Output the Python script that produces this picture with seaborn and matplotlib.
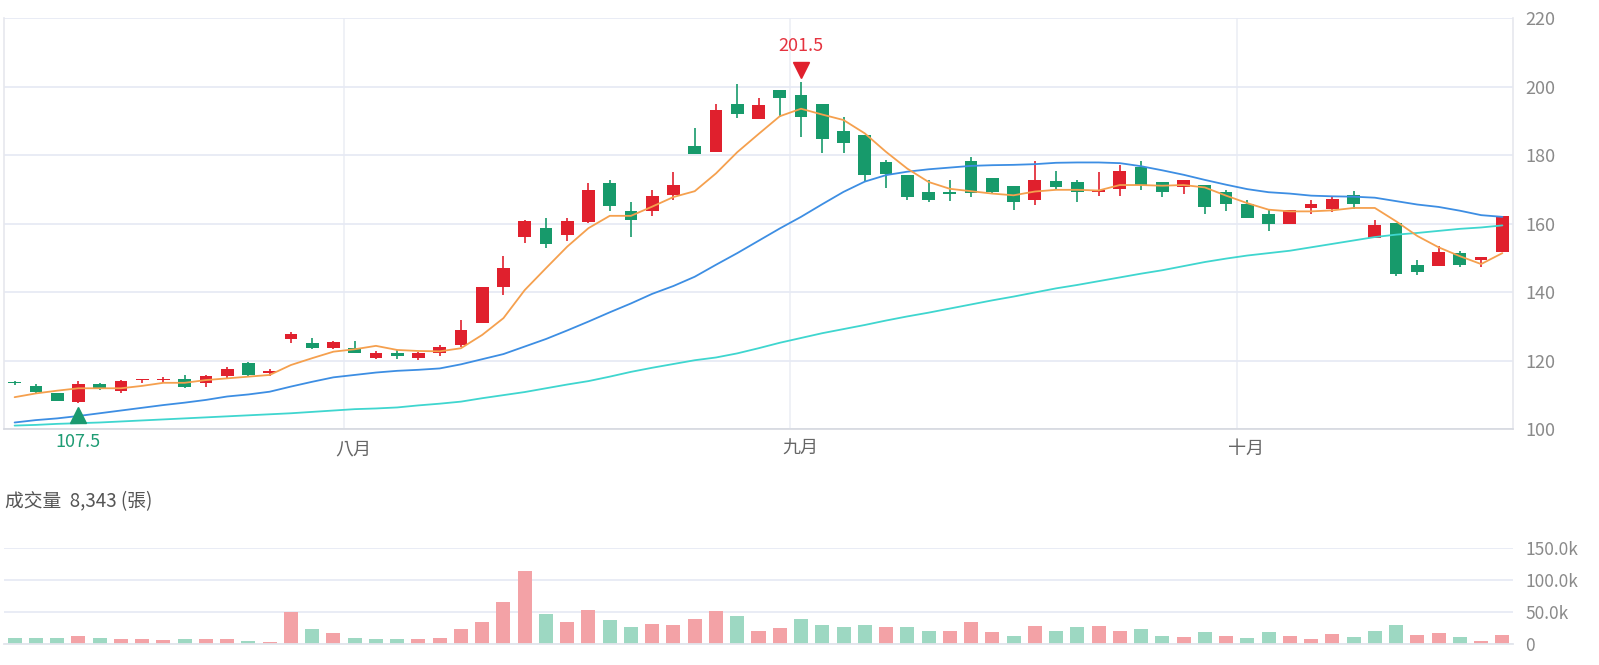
import numpy as np
import pandas as pd
import matplotlib
matplotlib.use("Agg")
import matplotlib.pyplot as plt
import seaborn as sns
from matplotlib.transforms import offset_copy, blended_transform_factory

# ---------------- data ----------------
open_ = [113.5, 112.6, 110.4, 108.0, 113.1, 111.2, 114.2, 114.2, 114.5, 113.4,
         115.5, 119.2, 116.5, 126.2, 125.0, 123.8, 123.6, 120.7, 122.2, 120.7,
         122.1, 124.6, 131.1, 141.6, 156.0, 158.7, 156.7, 160.6, 171.8, 163.7,
         163.8, 168.4, 182.6, 181.1, 195.0, 190.6, 199.2, 197.5, 195.1, 187.0,
         186.0, 177.9, 174.3, 169.2, 169.4, 178.2, 173.3, 171.1, 166.9, 172.6,
         172.3, 169.2, 170.0, 176.7, 172.3, 170.6, 171.3, 169.4, 165.8, 162.7,
         160.0, 164.7, 164.4, 168.4, 155.9, 160.3, 148.0, 147.5, 151.4, 149.4,
         151.8]
high = [113.9, 113.1, 110.6, 114.0, 113.4, 114.3, 114.6, 115.3, 115.8, 115.8,
        118.0, 119.6, 117.4, 128.4, 126.7, 125.8, 125.8, 122.9, 123.1, 122.6,
        124.6, 131.9, 141.5, 150.6, 161.0, 161.6, 161.6, 172.0, 172.8, 166.4,
        169.8, 175.0, 187.9, 194.9, 200.8, 196.8, 199.2, 201.5, 195.1, 191.3,
        186.0, 178.7, 174.3, 172.8, 172.8, 179.5, 173.3, 171.1, 178.2, 175.3,
        172.8, 175.1, 177.2, 178.2, 172.3, 172.8, 171.3, 169.9, 166.9, 163.9,
        164.1, 166.9, 167.9, 169.5, 161.0, 160.3, 149.4, 153.6, 151.9, 150.2,
        162.2]
low = [113.0, 110.4, 108.1, 107.5, 111.4, 110.4, 113.4, 113.4, 111.9, 112.4,
       114.7, 115.3, 115.5, 125.0, 123.4, 123.4, 122.1, 120.4, 120.4, 120.3,
       121.3, 124.1, 131.0, 139.2, 154.3, 152.8, 154.8, 160.3, 163.8, 156.2,
       162.2, 167.0, 180.3, 181.1, 190.9, 190.6, 191.1, 185.4, 180.8, 180.8,
       172.4, 170.3, 166.9, 166.2, 166.6, 167.9, 169.0, 163.9, 165.6, 169.9,
       166.4, 168.2, 168.2, 169.9, 167.7, 168.7, 162.8, 163.6, 161.8, 158.0,
       160.0, 162.8, 163.4, 164.2, 155.9, 144.6, 145.0, 147.5, 147.2, 147.2,
       151.8]
close = [113.3, 110.7, 108.3, 113.1, 111.6, 114.0, 114.5, 114.7, 112.2, 115.5,
         117.5, 115.7, 117.0, 127.7, 123.8, 125.5, 122.3, 122.1, 121.4, 122.1,
         124.1, 128.9, 141.4, 147.0, 160.9, 154.1, 160.9, 169.9, 165.2, 161.1,
         168.2, 171.2, 180.5, 193.1, 192.0, 194.6, 196.8, 191.3, 184.7, 183.7,
         174.2, 174.4, 167.9, 166.9, 168.7, 169.0, 169.3, 166.2, 172.8, 170.8,
         169.2, 169.9, 175.3, 171.3, 169.2, 172.8, 164.9, 165.9, 161.8, 159.8,
         164.1, 165.9, 167.2, 165.9, 159.7, 145.3, 145.9, 151.6, 147.9, 150.2,
         162.2]
ma5 = [109.3, 110.4, 111.2, 111.9, 111.9, 111.9, 112.6, 113.5, 113.5, 114.3,
       114.8, 115.3, 115.8, 118.7, 120.7, 122.6, 123.3, 124.3, 123.1, 122.8,
       122.7, 123.6, 127.5, 132.4, 140.6, 147.0, 153.3, 158.7, 162.3, 162.3,
       165.0, 167.8, 169.5, 174.7, 180.9, 186.2, 191.4, 193.6, 191.9, 190.3,
       186.4, 181.0, 176.1, 172.2, 170.2, 169.5, 168.8, 168.3, 169.4, 169.9,
       169.9, 169.7, 171.3, 171.3, 171.1, 171.3, 170.6, 168.2, 166.0, 164.1,
       163.6, 163.6, 163.9, 164.6, 164.6, 160.7, 156.4, 153.1, 150.5, 148.2,
       151.4]
ma20 = [101.9, 102.6, 103.1, 103.8, 104.6, 105.4, 106.2, 107.0, 107.7, 108.5,
        109.5, 110.1, 110.9, 112.4, 113.8, 115.1, 115.8, 116.5, 117.0, 117.3,
        117.7, 118.9, 120.4, 121.9, 124.1, 126.3, 128.8, 131.4, 134.1, 136.7,
        139.5, 141.8, 144.5, 148.0, 151.4, 155.0, 158.6, 162.0, 165.7, 169.3,
        172.3, 174.2, 175.2, 175.9, 176.4, 176.9, 177.1, 177.2, 177.4, 177.8,
        177.9, 177.9, 177.7, 176.8, 175.6, 174.3, 172.8, 171.4, 170.1, 169.2,
        168.8, 168.2, 168.0, 167.9, 167.6, 166.6, 165.6, 164.9, 163.8, 162.5,
        162.0]
ma60 = [101.0, 101.2, 101.5, 101.7, 101.9, 102.2, 102.5, 102.8, 103.1, 103.4,
        103.7, 104.0, 104.3, 104.6, 105.0, 105.4, 105.8, 106.0, 106.3, 106.9,
        107.4, 108.0, 109.0, 109.9, 110.8, 111.9, 113.0, 114.0, 115.3, 116.7,
        117.9, 119.0, 120.1, 120.9, 122.1, 123.6, 125.2, 126.6, 128.0, 129.2,
        130.4, 131.7, 132.9, 134.0, 135.2, 136.4, 137.6, 138.7, 139.9, 141.1,
        142.1, 143.2, 144.3, 145.4, 146.4, 147.6, 148.8, 149.8, 150.7, 151.4,
        152.1, 153.1, 154.1, 155.1, 156.1, 156.8, 157.3, 157.9, 158.5, 158.9,
        159.5]
volume = [10100, 9600, 9100, 13100, 10100, 8100, 7100, 5600, 7100, 8100,
          7100, 5100, 3000, 50000, 23700, 16700, 9600, 7600, 7100, 7600,
          9100, 23200, 33800, 65700, 113600, 47500, 33800, 52500, 36900, 26300,
          30800, 29800, 39400, 51000, 43400, 20700, 25300, 39400, 29800, 27300,
          29300, 26300, 26300, 20700, 20700, 34800, 18200, 12600, 28800, 20700,
          26800, 27800, 19700, 23200, 12100, 11100, 18200, 12100, 10100, 18200,
          12100, 7600, 15700, 11600, 19700, 29800, 14100, 17200, 11600, 5100,
          14100]
vol_up = [0, 0, 0, 1, 0, 1, 1, 1, 0, 1,
          1, 0, 1, 1, 0, 1, 0, 0, 0, 1,
          1, 1, 1, 1, 1, 0, 1, 1, 0, 0,
          1, 1, 1, 1, 0, 1, 1, 0, 0, 0,
          0, 1, 0, 0, 1, 1, 1, 0, 1, 0,
          0, 1, 1, 0, 0, 1, 0, 1, 0, 0,
          1, 1, 1, 0, 0, 0, 1, 1, 0, 1,
          1]
month_labels = ["八月", "九月", "十月"]
month_start = [16, 37, 58]          # index of first trading day of each month
price_ticks = [100, 120, 140, 160, 180, 200, 220]
vol_ticks = [0, 50000, 100000, 150000]
vol_tick_labels = ["0", "50.0k", "100.0k", "150.0k"]
vol_title = "成交量  8,343 (張)"

# ---------------- styling ----------------
RED, GREEN = "#e0202d", "#179a6b"
VRED, VGREEN = "#f3a2a6", "#9dd8c2"
ORANGE, BLUE, CYAN = "#f5a04e", "#3d8ee3", "#3fd6cf"
GRID = "#e7eaf4"
TICK = "#8a8a8a"

sns.set_theme(style="white")
plt.rcParams["font.family"] = ["Noto Sans CJK TC", "DejaVu Sans"]

W, H = 1599, 665
fig = plt.figure(figsize=(W / 100, H / 100), dpi=100)
ax = fig.add_axes([4 / W, 1 - 429 / H, 1509 / W, (429 - 18.4) / H])
axv = fig.add_axes([4 / W, 1 - 644 / H, 1509 / W, 96 / H])

n = len(close)
x = np.arange(n)
o = np.array(open_); c = np.array(close); hi = np.array(high); lo = np.array(low)
up = c >= o
cols = np.where(up, RED, GREEN)

# month grid lines
for ms in month_start:
    ax.axvline(ms - 0.5, color="#eef0f6", lw=1.3, zorder=0)

# candles
ax.vlines(x, lo, hi, colors=cols, lw=1.2, zorder=2)
body_h = np.maximum(np.abs(c - o), 0.35)
ax.bar(x, body_h, bottom=np.minimum(o, c), width=0.6, color=cols, zorder=2, linewidth=0)

# moving averages
sns.lineplot(x=x, y=ma60, ax=ax, color=CYAN, lw=1.3, zorder=3)
sns.lineplot(x=x, y=ma20, ax=ax, color=BLUE, lw=1.3, zorder=3)
sns.lineplot(x=x, y=ma5, ax=ax, color=ORANGE, lw=1.3, zorder=3)

ax.set_xlim(-0.5, n - 0.5)
ax.set_ylim(100, 220)
ax.set_yticks(price_ticks)
ax.yaxis.tick_right()
ax.tick_params(axis="y", length=0, pad=9, labelsize=13, labelcolor=TICK)
ax.set_xticks([])
ax.grid(axis="y", color=GRID, lw=1.3, zorder=0)
ax.set_axisbelow(True)
ax.spines["top"].set_visible(False)
ax.spines["left"].set_color("#e6e8ee")
ax.spines["right"].set_color("#e6e8ee")
ax.spines["bottom"].set_color("#d5d8df")
for s in ["left", "right", "bottom"]:
    ax.spines[s].set_linewidth(1.2)
ax.set_ylabel("")

# month labels
tb = blended_transform_factory(ax.transData, ax.transAxes)
for lab, ms in zip(month_labels, month_start):
    ax.text(ms - 0.05, -0.049, lab, transform=tb, ha="center", va="center",
            fontsize=13, color="#666666")

# max / min markers
imax = int(np.argmax(hi)); imin = int(np.argmin(lo))
tr_up = offset_copy(ax.transData, fig=fig, x=0, y=8.2, units="points")
ax.plot([imax], [hi[imax]], marker="v", ms=12, color=RED, transform=tr_up, clip_on=False, zorder=5)
ax.annotate(f"{hi[imax]:.1f}", xy=(imax, hi[imax]), xytext=(0, 25.6), textcoords="offset points",
            ha="center", va="center", fontsize=13, color="#e5333f", annotation_clip=False)
tr_dn = offset_copy(ax.transData, fig=fig, x=0, y=-8.5, units="points")
ax.plot([imin], [lo[imin]], marker="^", ms=12, color="#1a9a70", transform=tr_dn, clip_on=False, zorder=5)
ax.annotate(f"{lo[imin]:.1f}", xy=(imin, lo[imin]), xytext=(0, -27.5), textcoords="offset points",
            ha="center", va="center", fontsize=13, color="#1f9c74", annotation_clip=False)

# volume
df = pd.DataFrame({"x": x, "v": volume, "dir": ["up" if u else "down" for u in vol_up]})
sns.barplot(data=df, x="x", y="v", hue="dir", palette={"up": VRED, "down": VGREEN},
            width=0.66, dodge=False, legend=False, ax=axv, saturation=1, linewidth=0)
axv.set_xlim(-0.5, n - 0.5)
axv.set_ylim(0, 150000)
axv.set_yticks(vol_ticks)
axv.set_yticklabels(vol_tick_labels)
axv.yaxis.tick_right()
axv.tick_params(axis="y", length=0, pad=9, labelsize=12.5, labelcolor=TICK)
axv.set_xticks([])
axv.set_xlabel(""); axv.set_ylabel("")
axv.grid(axis="y", color=GRID, lw=1.3, zorder=0)
axv.set_axisbelow(True)
for s in ["top", "left", "right"]:
    axv.spines[s].set_visible(False)
axv.spines["bottom"].set_color("#e2e5ec")
axv.spines["bottom"].set_linewidth(1.3)

fig.text(5 / W, 1 - 502 / H, vol_title, ha="left", va="center", fontsize=13.5, color="#555555")

fig.savefig("out.png", dpi=100)
